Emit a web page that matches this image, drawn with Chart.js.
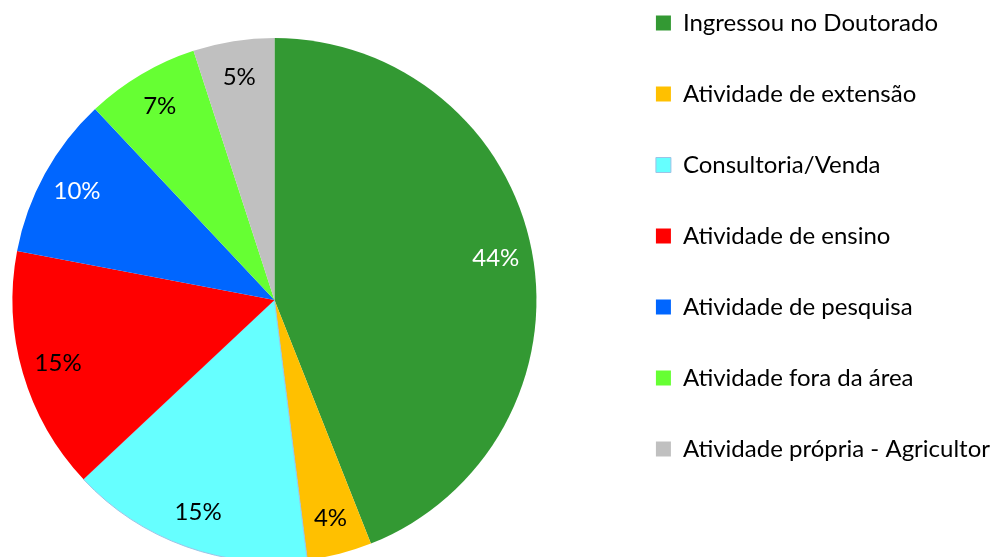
<!DOCTYPE html>
<html>
<head>
<meta charset="utf-8">
<script src="https://cdn.jsdelivr.net/npm/chart.js@4.4.0/dist/chart.umd.min.js"></script>
<style>
  html, body { margin: 0; padding: 0; background: #fff; overflow: hidden; width: 1000px; height: 557px; }
  /* canvas is a bit bigger than the window so the pie can run off the bottom like the original */
  #wrap { position: absolute; left: -60px; top: -36px; width: 1060px; height: 672px; }
</style>
</head>
<body>
<div id="wrap"><canvas id="pie"></canvas></div>
<script>
// data
const categories = [
    'Ingressou no Doutorado',
    'Atividade de extensão',
    'Consultoria/Venda',
    'Atividade de ensino',
    'Atividade de pesquisa',
    'Atividade fora da área',
    'Atividade própria - Agricultor'
];
const percentages = [44, 4, 15, 15, 10, 7, 5];

const sliceColors = ['#339933', '#FFC000', '#66FFFF', '#FF0000', '#0066FF', '#66FF33', '#C0C0C0'];
const labelColors = ['#fff', '#000', '#000', '#000', '#fff', '#000', '#000'];

const FONT = 'Lato';

// percent labels inside each slice
const sliceLabels = {
    id: 'sliceLabels',
    afterDatasetsDraw(chart) {
        const ctx = chart.ctx;
        const arcs = chart.getDatasetMeta(0).data;
        ctx.save();
        ctx.font = '24px ' + FONT;
        ctx.textAlign = 'center';
        ctx.textBaseline = 'middle';
        arcs.forEach((arc, i) => {
            const p = arc.getProps(['x', 'y', 'startAngle', 'endAngle', 'outerRadius'], true);
            const mid = (p.startAngle + p.endAngle) / 2;
            const r = p.outerRadius * 0.86;
            ctx.fillStyle = labelColors[i];
            ctx.fillText(percentages[i] + '%', p.x + Math.cos(mid) * r, p.y + Math.sin(mid) * r);
        });
        ctx.restore();
    }
};

const ctx = document.getElementById('pie').getContext('2d');
new Chart(ctx, {
    type: 'pie',
    data: {
        labels: categories,
        datasets: [{
            data: percentages,
            backgroundColor: sliceColors,
            borderColor: ['#fff', '#fff', '#9DC3E6', '#fff', '#fff', '#fff', '#fff'],
            borderWidth: [0, 0, 1, 0, 0, 0, 0],
            radius: 262
        }]
    },
    options: {
        responsive: true,
        maintainAspectRatio: false,
        animation: false,
        layout: { padding: 0 },
        plugins: {
            tooltip: { enabled: false },
            legend: {
                position: 'right',
                align: 'start',
                maxWidth: 392,
                labels: {
                    boxWidth: 15,
                    boxHeight: 15,
                    padding: 47,
                    color: '#000',
                    font: { family: FONT, size: 24 }
                }
            }
        }
    },
    plugins: [sliceLabels]
});
</script>
</body>
</html>
